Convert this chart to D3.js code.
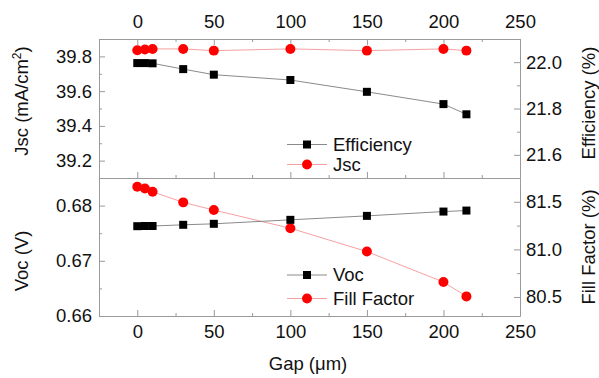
<!DOCTYPE html>
<html>
<head>
<meta charset="utf-8">
<script src="https://cdn.jsdelivr.net/npm/d3@7.9.0/dist/d3.min.js"></script>
<style>
  body { margin: 0; background: #fff; }
  svg { font-family: "Liberation Sans", Arial, sans-serif; }
  .tick text { font-size: 18.5px; fill: #111; }
  .axis-title { font-size: 18.5px; fill: #111; }
  .legend text { font-size: 18.5px; fill: #111; }
</style>
</head>
<body>
<svg id="chart" width="599" height="378"></svg>
<script>
// ---------------------------------------------------------
// Data
// ---------------------------------------------------------
const gap = [0, 5, 10, 30, 50, 100, 150, 200, 215];
const efficiency = [21.996, 21.996, 21.995, 21.970, 21.946, 21.923, 21.872, 21.819, 21.775];
const jsc = [39.835, 39.840, 39.843, 39.843, 39.833, 39.843, 39.833, 39.843, 39.833];
const voc = [0.67627, 0.67630, 0.67630, 0.67652, 0.6767, 0.67742, 0.67814, 0.67892, 0.6791];
const fillFactor = [81.657, 81.640, 81.605, 81.494, 81.413, 81.222, 80.977, 80.657, 80.506];

const gapTicks = [0, 50, 100, 150, 200, 250];
const jscTicks = [39.2, 39.4, 39.6, 39.8];
const effTicks = [21.6, 21.8, 22.0];
const vocTicks = [0.66, 0.67, 0.68];
const ffTicks = [80.5, 81.0, 81.5];

// ---------------------------------------------------------
// Layout
// ---------------------------------------------------------
const left = 99, right = 520;
const topY = 39, midY = 178, bottomY = 316;
const axisColor = "#9a9a9a";

const svg = d3.select("#chart");

const x = d3.scaleLinear().domain([-25, 250]).range([left, right]);
const yJsc = d3.scaleLinear().domain([39.1, 39.9]).range([midY, topY]);
const yEff = d3.scaleLinear().domain([21.5, 22.1]).range([midY, topY]);
const yVoc = d3.scaleLinear().domain([0.66, 0.685]).range([bottomY, midY]);
const yFF = d3.scaleLinear().domain([80.3, 81.75]).range([bottomY, midY]);

function styleAxis(g) {
  g.select(".domain").attr("stroke", axisColor);
  g.selectAll(".tick line").attr("stroke", axisColor);
}

// axis with inward major + minor ticks
function drawAxis(axisFn, scale, majors, minors, transform, fmt, pad) {
  const gMinor = svg.append("g").attr("transform", transform)
    .call(axisFn(scale).tickValues(minors).tickSize(-3).tickFormat(""));
  gMinor.select(".domain").remove();
  gMinor.selectAll(".tick line").attr("stroke", axisColor);

  const g = svg.append("g").attr("transform", transform)
    .call(axisFn(scale).tickValues(majors).tickSizeInner(-6).tickSizeOuter(0)
      .tickPadding(pad || 3)
      .tickFormat(fmt || ""));
  styleAxis(g);
  return g;
}

const gapMinor = [-25, 25, 75, 125, 175, 225];

// top panel
drawAxis(d3.axisTop, x, gapTicks, gapMinor, `translate(0,${topY})`, d3.format("d"), 11);
drawAxis(d3.axisBottom, x, gapTicks, gapMinor, `translate(0,${midY})`);
drawAxis(d3.axisLeft, yJsc, jscTicks, [39.1, 39.3, 39.5, 39.7, 39.9], `translate(${left},0)`, d3.format(".1f"), 7);
drawAxis(d3.axisRight, yEff, effTicks, [21.5, 21.7, 21.9, 22.1], `translate(${right},0)`, d3.format(".1f"), 6);

// bottom panel
drawAxis(d3.axisBottom, x, gapTicks, gapMinor, `translate(0,${bottomY})`, d3.format("d"), 9);
drawAxis(d3.axisLeft, yVoc, vocTicks, [0.665, 0.675, 0.685], `translate(${left},0)`, d3.format(".2f"), 7);
drawAxis(d3.axisRight, yFF, ffTicks, [80.75, 81.25, 81.75], `translate(${right},0)`, d3.format(".1f"), 6);

// ---------------------------------------------------------
// Series
// ---------------------------------------------------------
const lineGray = "#8a8a8a", linePink = "#f7a0a0";

function markerPath(shape) {
  return d3.symbol().type(shape).size(shape === d3.symbolSquare ? 64 : 78)();
}

function drawSeries(values, yScale, lineColor, fill, shape) {
  const pts = gap.map((g, i) => [x(g), yScale(values[i])]);
  svg.append("path")
    .attr("d", d3.line()(pts))
    .attr("fill", "none")
    .attr("stroke", lineColor)
    .attr("stroke-width", 1);
  svg.append("g").selectAll("path")
    .data(pts)
    .join("path")
    .attr("transform", d => `translate(${d[0]},${d[1]})`)
    .attr("d", markerPath(shape))
    .attr("fill", fill);
}

drawSeries(jsc, yJsc, linePink, "#ff0000", d3.symbolCircle);
drawSeries(efficiency, yEff, lineGray, "#000", d3.symbolSquare);
drawSeries(fillFactor, yFF, linePink, "#ff0000", d3.symbolCircle);
drawSeries(voc, yVoc, lineGray, "#000", d3.symbolSquare);

// ---------------------------------------------------------
// Legends
// ---------------------------------------------------------
function legendItem(yPos, label, lineColor, fill, shape) {
  const g = svg.append("g").attr("class", "legend");
  g.append("line").attr("x1", 287).attr("x2", 327).attr("y1", yPos).attr("y2", yPos)
    .attr("stroke", lineColor);
  g.append("path")
    .attr("transform", `translate(307,${yPos})`)
    .attr("d", markerPath(shape))
    .attr("fill", fill);
  g.append("text").attr("x", 333).attr("y", yPos).attr("dy", "0.35em").text(label);
}

legendItem(144.5, "Efficiency", lineGray, "#000", d3.symbolSquare);
legendItem(164.5, "Jsc", linePink, "#ff0000", d3.symbolCircle);
legendItem(275, "Voc", lineGray, "#000", d3.symbolSquare);
legendItem(298.5, "Fill Factor", linePink, "#ff0000", d3.symbolCircle);

// ---------------------------------------------------------
// Axis titles
// ---------------------------------------------------------
const jscTitle = svg.append("text").attr("class", "axis-title")
  .attr("transform", "translate(28,101) rotate(-90)")
  .attr("text-anchor", "middle");
jscTitle.append("tspan").text("Jsc (mA/cm");
jscTitle.append("tspan").attr("dy", -7).attr("font-size", 12).text("2");
jscTitle.append("tspan").attr("dy", 7).text(")");

svg.append("text").attr("class", "axis-title")
  .attr("transform", "translate(28,261) rotate(-90)")
  .attr("text-anchor", "middle").text("Voc (V)");

svg.append("text").attr("class", "axis-title")
  .attr("transform", "translate(595,103) rotate(-90)")
  .attr("text-anchor", "middle").text("Efficiency (%)");

svg.append("text").attr("class", "axis-title")
  .attr("transform", "translate(595,247) rotate(-90)")
  .attr("text-anchor", "middle").text("Fill Factor (%)");

svg.append("text").attr("class", "axis-title")
  .attr("x", 308).attr("y", 370)
  .attr("text-anchor", "middle").text("Gap (μm)");
</script>
</body>
</html>
